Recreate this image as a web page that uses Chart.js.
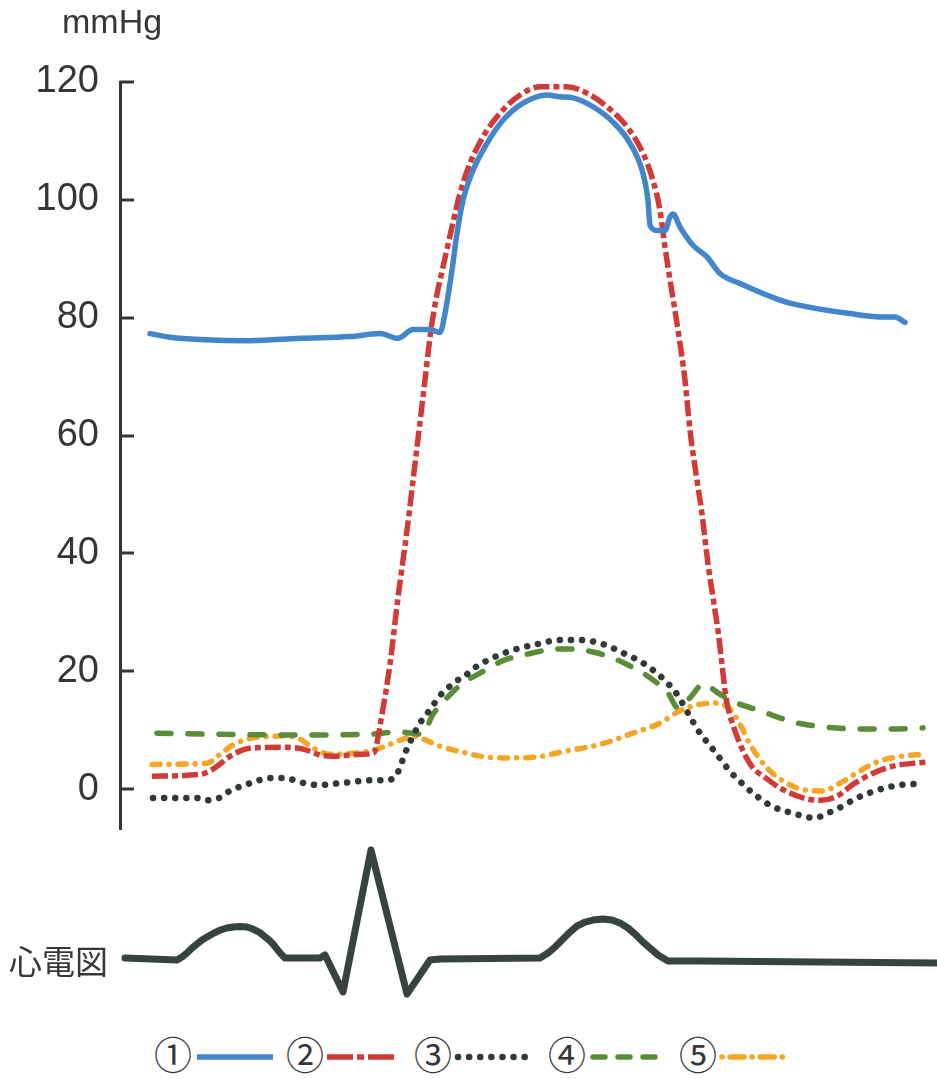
<!DOCTYPE html>
<html>
<head>
<meta charset="utf-8">
<script src="https://cdn.jsdelivr.net/npm/chart.js@4.4.1/dist/chart.umd.min.js"></script>
<style>
  body { margin: 0; background: #fff; width: 937px; height: 1079px; position: relative; overflow: hidden; }
  #pressure { position: absolute; left: 0; top: 0; }
  #ecg { position: absolute; left: 0; top: 830px; }
  #legend { position: absolute; left: 0; top: 1036px; }
</style>
</head>
<body>
<canvas id="pressure" width="937" height="873"></canvas>
<canvas id="ecg" width="937" height="180"></canvas>
<svg id="legend" width="937" height="42"></svg>
<script>
// ==================== pressure traces (time in ms, pressure in mmHg) ====================

const yTicks = [0, 20, 40, 60, 80, 100, 120];
const seriesLabels = ['①', '②', '③', '④', '⑤'];

const trace1Time = [30, 50, 80, 130, 180, 230, 260, 278, 293, 310, 320, 325, 332, 337, 343, 353, 367, 383, 403, 427, 440, 453, 473, 493, 510, 523, 528, 530, 537, 545, 550, 553, 560, 573, 587, 600, 620, 660, 680, 730, 765, 775, 785];
const trace1Mmhg = [77.3, 76.7, 76.3, 76.1, 76.5, 76.8, 77.3, 76.5, 78.0, 78.0, 77.5, 80.7, 88.1, 94.3, 99.9, 105.0, 109.6, 113.5, 116.4, 117.8, 117.5, 117.3, 115.8, 113.2, 109.6, 104.5, 99.9, 95.7, 94.8, 94.8, 97.1, 97.6, 95.4, 92.3, 90.3, 87.5, 85.8, 83.0, 82.1, 80.7, 80.1, 80.1, 79.2];

const trace2Time = [32, 80, 93, 113, 133, 167, 183, 200, 213, 240, 253, 255, 262, 270, 278, 287, 295, 303, 311, 317, 323, 332, 340, 350, 363, 380, 400, 420, 447, 467, 487, 507, 523, 533, 540, 545, 550, 558, 565, 570, 577, 582, 588, 593, 598, 602, 605, 608, 615, 623, 633, 645, 660, 683, 700, 717, 733, 753, 773, 807];
const trace2Mmhg = [2.2, 2.5, 3.4, 5.9, 7.0, 7.1, 6.8, 5.8, 5.6, 5.9, 6.1, 6.5, 12.7, 21.2, 32.5, 43.9, 55.2, 66.5, 77.9, 84.0, 88.6, 95.4, 101.1, 106.2, 110.7, 114.7, 117.8, 119.2, 119.2, 118.1, 115.8, 112.4, 107.9, 103.3, 98.2, 92.0, 86.4, 77.9, 69.4, 60.9, 52.4, 46.7, 38.2, 32.5, 26.9, 21.2, 16.7, 13.8, 9.9, 6.5, 3.6, 2.0, 0.2, -1.5, -1.9, -1.2, 0.8, 2.7, 3.9, 4.6];

const trace3Time = [33, 77, 88, 99, 110, 130, 152, 163, 185, 197, 220, 253, 263, 275, 280, 284, 288, 293, 298, 305, 312, 318, 327, 335, 345, 353, 373, 393, 417, 440, 460, 483, 503, 523, 542, 557, 568, 580, 590, 600, 610, 620, 633, 652, 673, 695, 707, 717, 737, 757, 780, 802];
const trace3Mmhg = [-1.5, -1.5, -1.9, -1.5, -0.3, 1.0, 1.9, 1.9, 1.0, 0.7, 1.0, 1.5, 1.5, 2.0, 3.7, 5.6, 7.3, 9.0, 10.7, 12.4, 13.9, 15.5, 17.0, 18.2, 19.2, 20.4, 22.3, 23.6, 24.6, 25.3, 25.3, 24.6, 23.1, 21.4, 18.9, 16.1, 12.9, 9.5, 7.4, 5.2, 3.0, 1.3, -0.7, -2.9, -4.1, -4.9, -4.1, -3.4, -1.5, -0.2, 0.7, 0.9];

const trace4Time = [37, 97, 180, 247, 280, 292, 302, 313, 327, 343, 360, 383, 407, 440, 463, 487, 510, 530, 548, 558, 570, 583, 600, 617, 640, 673, 707, 740, 773, 803];
const trace4Mmhg = [9.5, 9.3, 9.2, 9.3, 9.7, 9.5, 9.3, 12.7, 15.5, 18.0, 19.7, 21.8, 22.9, 23.8, 23.6, 22.6, 20.9, 18.9, 16.3, 13.8, 15.5, 17.8, 16.1, 14.6, 13.3, 11.4, 10.5, 10.2, 10.2, 10.4];

const trace5Time = [32, 87, 100, 113, 133, 167, 180, 193, 210, 233, 253, 270, 283, 293, 303, 320, 347, 360, 383, 413, 447, 480, 513, 540, 560, 580, 597, 610, 620, 630, 647, 667, 687, 703, 720, 740, 760, 783, 805];
const trace5Mmhg = [4.2, 4.4, 5.9, 7.5, 8.7, 9.0, 8.5, 7.0, 5.9, 6.1, 6.6, 7.6, 8.5, 9.0, 8.5, 7.3, 6.1, 5.6, 5.3, 5.4, 6.5, 7.6, 9.5, 11.2, 13.3, 14.4, 14.6, 13.6, 11.0, 7.6, 3.6, 1.0, -0.2, -0.3, 1.0, 3.1, 4.8, 5.6, 5.9];

// ==================== ECG (time in ms, relative amplitude) ====================

const ecgTime = [5, 57, 62, 67, 72, 77, 82, 87, 94, 100, 107, 113, 120, 127, 133, 139, 144, 149, 153, 157, 161, 165, 180, 200, 205, 223, 251, 287, 310, 320, 420, 428, 435, 442, 450, 457, 465, 473, 483, 492, 500, 508, 515, 522, 530, 538, 548, 580, 817];
const ecgAmplitude = [0.018, 0, 0.027, 0.063, 0.107, 0.143, 0.179, 0.205, 0.241, 0.268, 0.286, 0.295, 0.30, 0.295, 0.277, 0.25, 0.214, 0.179, 0.143, 0.098, 0.054, 0.018, 0.018, 0.018, 0.045, -0.286, 0.982, -0.304, 0, 0.01, 0.018, 0.063, 0.116, 0.179, 0.25, 0.304, 0.339, 0.357, 0.366, 0.357, 0.33, 0.286, 0.232, 0.17, 0.107, 0.045, -0.009, -0.009, -0.027];

const TEXT = '#363636';

function toPoints(times, values) {
  return times.map((t, i) => ({ x: t, y: values[i] }));
}

function traceDataset(label, times, values, color, width, dash, cap) {
  return {
    label,
    data: toPoints(times, values),
    borderColor: color,
    borderWidth: width,
    borderDash: dash,
    borderCapStyle: cap,
    borderJoinStyle: 'round',
    pointRadius: 0,
    fill: false,
    cubicInterpolationMode: 'monotone'
  };
}

const traceStyles = [
  { color: '#4386cc', width: 5.5, dash: [], cap: 'round' },
  { color: '#d03a37', width: 5.5, dash: [16, 4, 6, 4], cap: 'butt' },
  { color: '#323a38', width: 6.5, dash: [0.1, 11], cap: 'round' },
  { color: '#5b8d39', width: 5.5, dash: [14, 17], cap: 'round' },
  { color: '#f6a626', width: 5.5, dash: [8, 9, 0.1, 9], cap: 'round' }
];
// legend samples use slightly longer dashes, as in the printed key
const legendDash = ['none', '26 4 7 4', '0.1 11', '12 13', '0.1 8 14 8'];

const traceTimes = [trace1Time, trace2Time, trace3Time, trace4Time, trace5Time];
const traceValues = [trace1Mmhg, trace2Mmhg, trace3Mmhg, trace4Mmhg, trace5Mmhg];

// tick marks point into the plot, and the unit sits above the axis
const innerTicks = {
  id: 'innerTicks',
  afterDraw(chart) {
    const s = chart.scales.y;
    const ctx = chart.ctx;
    ctx.save();
    ctx.strokeStyle = TEXT;
    ctx.lineWidth = 3;
    s.ticks.forEach(t => {
      const y = Math.round(s.getPixelForValue(t.value));
      ctx.beginPath();
      ctx.moveTo(s.right, y);
      ctx.lineTo(s.right + 14, y);
      ctx.stroke();
    });
    ctx.fillStyle = TEXT;
    ctx.font = '34px "Liberation Sans", Arial, sans-serif';
    ctx.textBaseline = 'alphabetic';
    ctx.textAlign = 'left';
    ctx.fillText('mmHg', 62, 33);
    ctx.restore();
  }
};

new Chart(document.getElementById('pressure'), {
  type: 'line',
  data: {
    datasets: seriesLabels.map((lab, i) => traceDataset(lab, traceTimes[i], traceValues[i],
      traceStyles[i].color, traceStyles[i].width, traceStyles[i].dash, traceStyles[i].cap))
  },
  options: {
    responsive: false,
    animation: false,
    layout: { padding: { top: 82, bottom: 12, left: 0, right: 0 } },
    plugins: { legend: { display: false }, tooltip: { enabled: false } },
    scales: {
      x: { type: 'linear', min: 0, max: 817, display: false },
      y: {
        min: -6.8,
        max: 120,
        afterFit(scale) { scale.width = 120; },
        afterBuildTicks(scale) { scale.ticks = yTicks.map(v => ({ value: v })); },
        grid: { display: false, drawTicks: false },
        border: { display: true, color: TEXT, width: 3 },
        ticks: { padding: 21, color: TEXT, font: { size: 38, family: '"Liberation Sans", Arial, sans-serif' } }
      }
    }
  },
  plugins: [innerTicks]
});

const ecgLabel = {
  id: 'ecgLabel',
  afterDraw(chart) {
    const ctx = chart.ctx;
    ctx.save();
    ctx.fillStyle = TEXT;
    ctx.font = '33px "Noto Sans CJK JP", sans-serif';
    ctx.textBaseline = 'middle';
    ctx.textAlign = 'left';
    ctx.fillText('心電図', 9, 131);
    ctx.restore();
  }
};

new Chart(document.getElementById('ecg'), {
  type: 'line',
  data: {
    datasets: [{
      label: '心電図',
      data: toPoints(ecgTime, ecgAmplitude),
      borderColor: '#36433e',
      borderWidth: 7,
      borderJoinStyle: 'round',
      borderCapStyle: 'round',
      pointRadius: 0,
      tension: 0,
      fill: false
    }]
  },
  options: {
    responsive: false,
    animation: false,
    layout: { padding: { top: 0, bottom: 0, left: 120, right: 0 } },
    plugins: { legend: { display: false }, tooltip: { enabled: false } },
    scales: {
      x: { type: 'linear', min: 0, max: 817, display: false },
      y: { min: -0.446, max: 1.161, display: false }
    }
  },
  plugins: [ecgLabel]
});

// ==================== legend: circled number then a line sample ====================
const legendX = [154, 286, 414, 548, 679];
const sampleX = [[197, 273], [327, 398], [458, 532], [593, 660], [722, 785]];
const svg = document.getElementById('legend');
let html = '';
seriesLabels.forEach((lab, i) => {
  const st = traceStyles[i];
  html += `<text x="${legendX[i]}" y="33" font-family="Noto Sans CJK JP" font-size="38" fill="${TEXT}">${lab}</text>`;
  html += `<line x1="${sampleX[i][0]}" y1="21" x2="${sampleX[i][1]}" y2="21" stroke="${st.color}" stroke-width="${st.width}" stroke-dasharray="${legendDash[i]}" stroke-linecap="${i === 0 || i === 1 ? 'butt' : 'round'}"/>`;
});
svg.innerHTML = html;
</script>
</body>
</html>
